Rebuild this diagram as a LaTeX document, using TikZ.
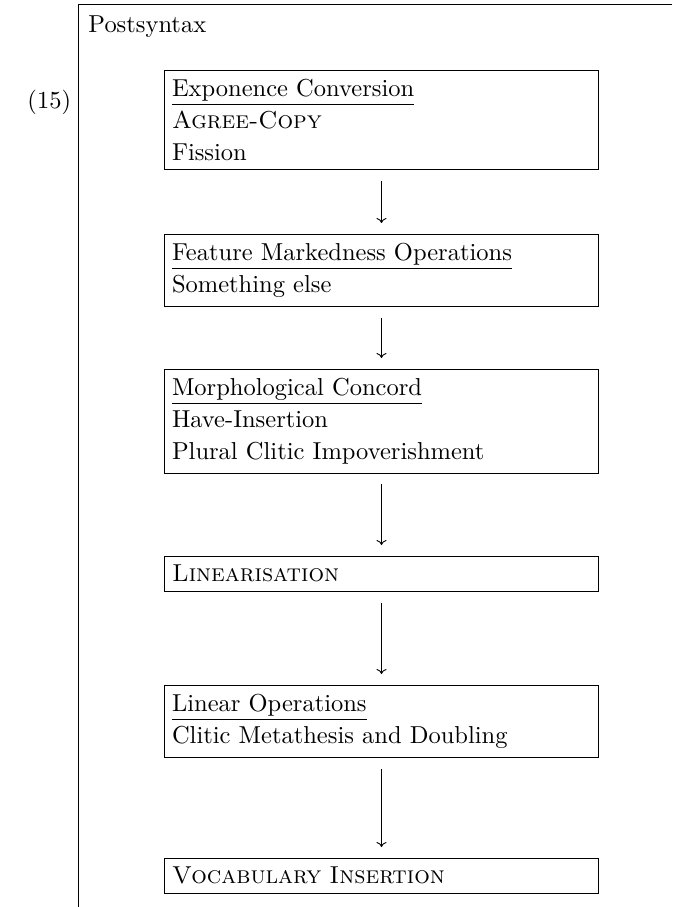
\documentclass[tikz,border=0pt]{standalone}
\usetikzlibrary{arrows.meta}
\tikzset{
  stage/.style={draw, line width=1pt, anchor=north, scale=2.45,
    text width=171pt, inner xsep=3.27pt, inner ysep=3.67pt, align=left,
    font=\fontsize{10}{13.06}\selectfont},
  flow/.style={-{To[length=5pt,width=10pt]}, line width=0.9pt,
    shorten <=10pt, shorten >=10pt},
  framestyle/.style={line width=1pt},
  plain/.style={inner sep=0pt, scale=2.45, font=\fontsize{10}{13.06}\selectfont}
}
\begin{document}
\begin{tikzpicture}[x=1pt,y=-1pt]
\useasboundingbox (0,0) rectangle (672,907);
\draw[framestyle] (672,5) -- (78,5) -- (78,907);
\node[plain, anchor=base west] (title) at (88,33) {Postsyntax};
\node[plain, anchor=base west] (num) at (27,108) {(15)};
\node[stage] (b1) at (381.5,69)
  {\underline{Exponence Conversion}\\\textsc{Agree-Copy}\\Fission};
\node[stage] (b2) at (381.5,233)
  {\underline{Feature Markedness Operations}\\Something else};
\node[stage] (b3) at (381.5,368)
  {\underline{Morphological Concord}\\Have-Insertion\\Plural Clitic Impoverishment};
\node[stage] (b4) at (381.5,555) {\textsc{Linearisation}};
\node[stage] (b5) at (381.5,684)
  {\underline{Linear Operations}\\Clitic Metathesis and Doubling};
\node[stage] (b6) at (381.5,857) {\textsc{Vocabulary Insertion}};
\draw[flow] (b1.south) -- (b2.north);
\draw[flow] (b2.south) -- (b3.north);
\draw[flow] (b3.south) -- (b4.north);
\draw[flow] (b4.south) -- (b5.north);
\draw[flow] (b5.south) -- (b6.north);
\end{tikzpicture}
\end{document}
